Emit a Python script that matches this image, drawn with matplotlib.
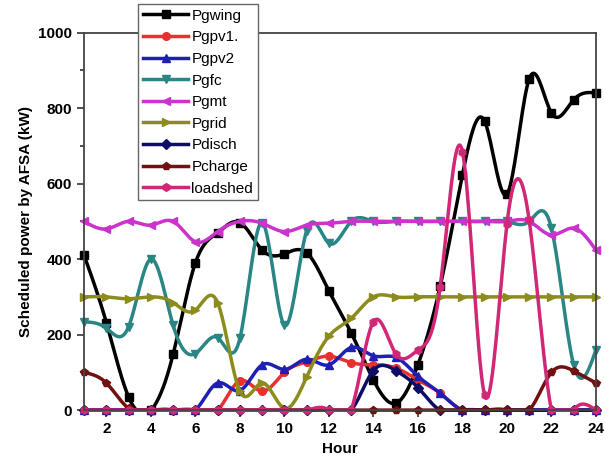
import matplotlib
matplotlib.use("Agg")
import numpy as np
import matplotlib.pyplot as plt

plt.rcParams["font.family"] = ["Liberation Sans", "DejaVu Sans"]

HOURS = np.arange(1, 25)

# hourly values (kW)
pgwing = [410, 232, 35, 0, 148, 390, 470, 497, 424, 414, 417, 316,
          205, 80, 18, 120, 328, 623, 765, 572, 877, 787, 822, 840]
pgpv1 = [0, 0, 0, 0, 0, 0, 0, 78, 50, 100, 128, 143,
         126, 120, 112, 80, 45, 0, 0, 0, 0, 0, 0, 0]
pgpv2 = [0, 0, 0, 0, 0, 0, 72, 52, 120, 108, 135, 120,
         166, 144, 140, 90, 45, 0, 0, 0, 0, 0, 0, 0]
pgfc = [234, 217, 221, 400, 225, 150, 192, 190, 497, 225, 475, 442,
        500, 500, 500, 500, 500, 500, 500, 500, 500, 482, 120, 160]
pgmt = [500, 480, 500, 490, 500, 446, 473, 500, 495, 473, 490, 495,
        500, 500, 500, 500, 500, 500, 500, 500, 500, 464, 482, 424]
pgrid = [300, 300, 295, 300, 285, 265, 285, 50, 72, 5, 88, 196,
         243, 300, 300, 300, 300, 300, 300, 300, 300, 300, 300, 300]
pdisch = [0, 0, 0, 0, 0, 0, 0, 0, 0, 0, 0, 0,
          0, 105, 105, 60, 0, 0, 0, 0, 0, 0, 0, 0]
pcharge = [100, 72, 5, 0, 0, 0, 0, 0, 0, 0, 0, 0,
           0, 0, 0, 0, 0, 0, 0, 0, 0, 100, 104, 72]
loadshed = [0, 0, 0, 0, 0, 0, 0, 0, 0, 0, 0, 0,
            0, 234, 150, 159, 326, 685, 40, 492, 503, 0, 0, 0]

SERIES = [
    ("Pgwing", pgwing, "#000000", "s"),
    ("Pgpv1.", pgpv1, "#e8302e", "o"),
    ("Pgpv2", pgpv2, "#1f1fb4", "^"),
    ("Pgfc", pgfc, "#2a8585", "v"),
    ("Pgmt", pgmt, "#cc33cc", "<"),
    ("Pgrid", pgrid, "#8c8c1e", ">"),
    ("Pdisch", pdisch, "#0d0d66", "D"),
    ("Pcharge", pcharge, "#701010", "p"),
    ("loadshed", loadshed, "#d02877", "h"),
]


def natural_spline(x, y, xs):
    # natural cubic spline, like Origin's "spline" line connection
    x = np.asarray(x, float); y = np.asarray(y, float)
    n = len(x)
    h = np.diff(x)
    A = np.zeros((n, n)); b = np.zeros(n)
    A[0, 0] = A[-1, -1] = 1
    for i in range(1, n - 1):
        A[i, i - 1] = h[i - 1]
        A[i, i] = 2 * (h[i - 1] + h[i])
        A[i, i + 1] = h[i]
        b[i] = 6 * ((y[i + 1] - y[i]) / h[i] - (y[i] - y[i - 1]) / h[i - 1])
    M = np.linalg.solve(A, b)
    idx = np.clip(np.searchsorted(x, xs) - 1, 0, n - 2)
    t = xs - x[idx]; hi = h[idx]
    a = (M[idx + 1] - M[idx]) / (6 * hi)
    bb = M[idx] / 2
    c = (y[idx + 1] - y[idx]) / hi - hi * (2 * M[idx] + M[idx + 1]) / 6
    return y[idx] + c * t + bb * t ** 2 + a * t ** 3


STEP = 20
xs = np.linspace(1, 24, 23 * STEP + 1)

fig = plt.figure(figsize=(6.05, 4.72), dpi=100)
ax = fig.add_axes([0.139, 0.131, 0.846, 0.80])

for name, vals, color, mk in SERIES:
    ys = np.clip(natural_spline(HOURS, vals, xs), 0, None)
    ax.plot(xs, ys, color=color, lw=2.5, marker=mk, markersize=5.5,
            markevery=STEP, label=name, clip_on=False, solid_joinstyle="round")

ax.set_xlim(1, 24)
ax.set_ylim(0, 1000)
ax.set_xticks(range(2, 25, 2))
ax.set_xticks(range(1, 25, 2), minor=True)
ax.set_yticks(range(0, 1001, 200))
ax.set_yticks(range(100, 1000, 200), minor=True)
ax.tick_params(axis="both", which="major", length=5, width=1.2,
               labelsize=11, colors="#333333", labelcolor="black")
ax.tick_params(axis="both", which="minor", length=3, width=1.2, colors="#333333")
for lab in ax.get_xticklabels() + ax.get_yticklabels():
    lab.set_fontweight("bold")
for sp in ax.spines.values():
    sp.set_linewidth(1.3)
    sp.set_color("#444444")

ax.set_xlabel("Hour", fontsize=11, fontweight="bold")
ax.set_ylabel("Scheduled power by AFSA (kW)", fontsize=11, fontweight="bold")

leg = ax.legend(loc="upper left", bbox_to_anchor=(138 / 605, 1 - 4 / 472),
                bbox_transform=fig.transFigure, borderaxespad=0, fontsize=11,
                handlelength=3.0, handletextpad=0.2, labelspacing=0.5,
                borderpad=0.3, fancybox=False, framealpha=1)
leg.get_frame().set_edgecolor("#666666")
leg.get_frame().set_linewidth(1.0)

plt.savefig("out.png", dpi=100)
